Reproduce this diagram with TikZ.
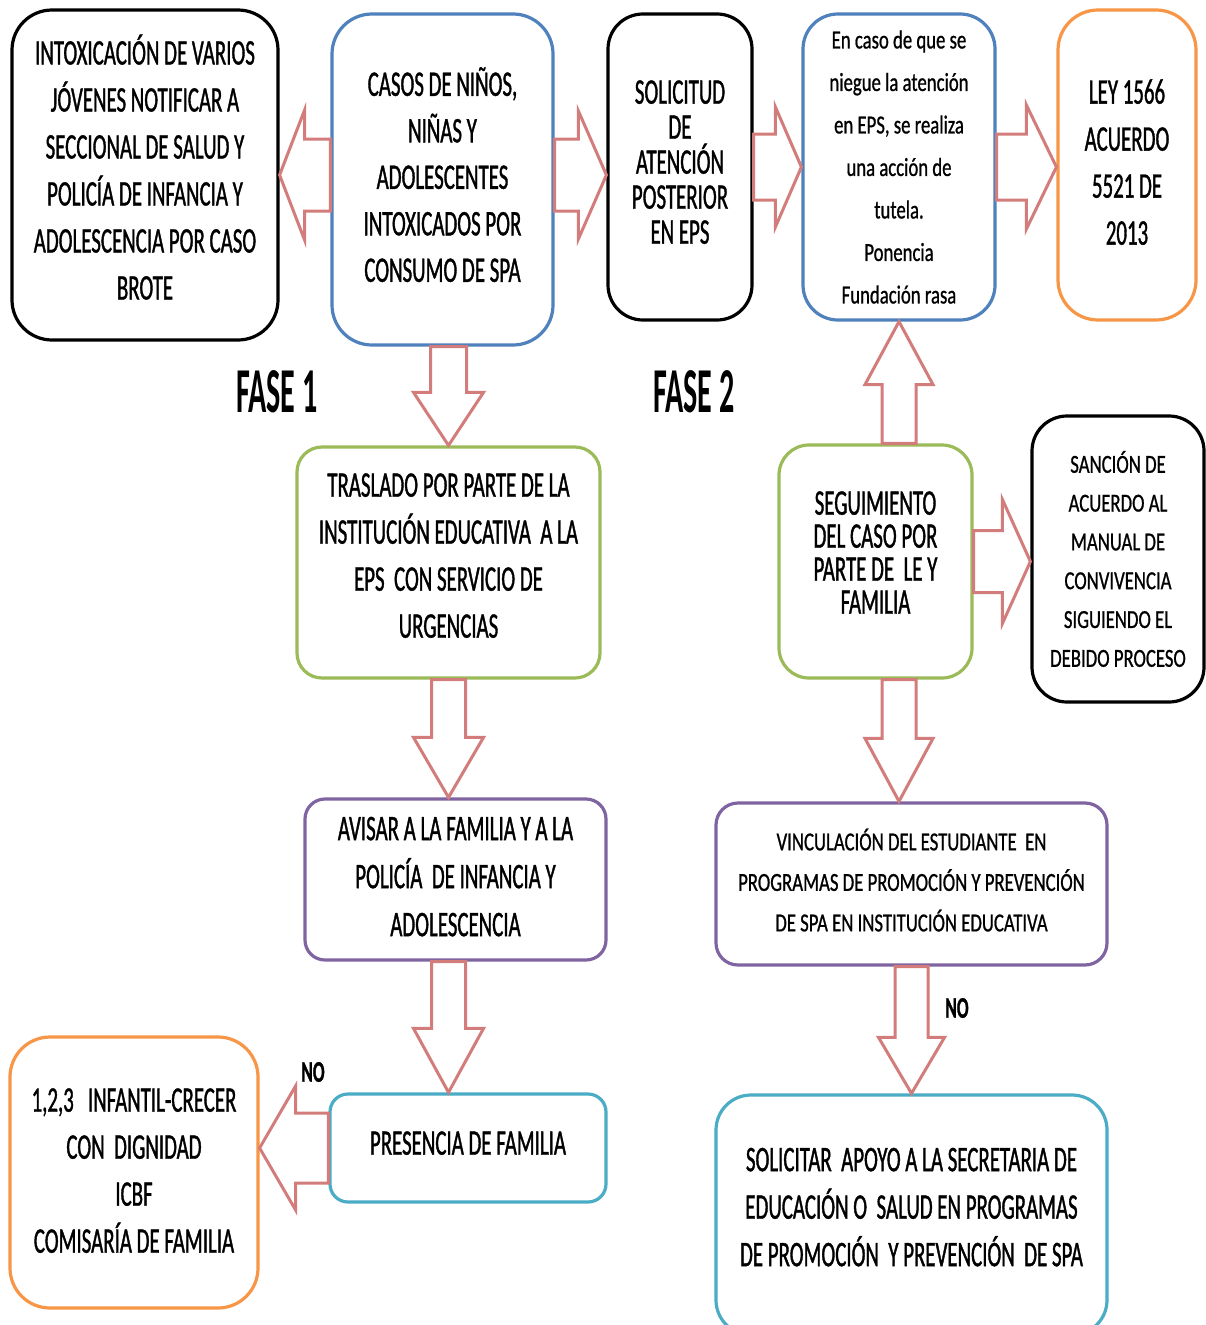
\documentclass[tikz,border=0pt]{standalone}
\usepackage{fontspec}
\setmainfont{Carlito}
\newfontfamily\condA{Carlito}[FakeStretch=0.58,FakeBold=1]
\newfontfamily\condB{Carlito}[FakeStretch=0.72,FakeBold=0.8]
\newfontfamily\condC{Carlito}[FakeStretch=0.47]
\usetikzlibrary{calc}
\definecolor{cblue}{RGB}{79,129,189}
\definecolor{corange}{RGB}{247,150,70}
\definecolor{cgreen}{RGB}{155,187,89}
\definecolor{cpurple}{RGB}{128,100,162}
\definecolor{cteal}{RGB}{75,172,198}
\definecolor{carrow}{RGB}{210,125,123}
\tikzset{
  box/.style={draw, line width=3.2pt, fill=white, align=center, inner sep=0pt, text=black},
  txtA/.style={font=\condA\fontsize{36}{47}\selectfont},
  blockarrow/.style={draw=carrow, line width=3pt, fill=white, line join=miter},
  faselabel/.style={font=\condC\bfseries\fontsize{64}{70}\selectfont, inner sep=0pt},
  nolabel/.style={font=\condA\bfseries\fontsize{30}{34}\selectfont, inner sep=0pt}
}
\newcommand\blockarr[5]{%
  \coordinate (ba-s) at (#1);
  \coordinate (ba-e) at (#2);
  \coordinate (ba-h) at ($(ba-e)!#5!(ba-s)$);
  \draw[blockarrow] ($(ba-s)!#3!90:(ba-e)$) -- ($(ba-h)!#3!-90:(ba-s)$) -- ($(ba-h)!#4!-90:(ba-s)$)
    -- (ba-e) -- ($(ba-h)!#4!90:(ba-s)$) -- ($(ba-h)!#3!90:(ba-s)$) -- ($(ba-s)!#3!-90:(ba-e)$) -- cycle;}
\begin{document}
\begin{tikzpicture}[x=1pt,y=-1pt]
\useasboundingbox (0,0) rectangle (1206,1325);
\fill[white] (0,0) rectangle (1206,1325);

\node[box, draw=black, rounded corners=40pt, minimum width=266pt, minimum height=330pt, txtA, text depth=16pt] (b1) at (145,175)
  {INTOXICACIÓN DE VARIOS\\JÓVENES NOTIFICAR A\\SECCIONAL DE SALUD Y\\POLICÍA DE INFANCIA Y\\ADOLESCENCIA POR CASO\\BROTE};
\node[box, draw=cblue, rounded corners=40pt, minimum width=221pt, minimum height=331pt, font=\condA\fontsize{36}{46.5}\selectfont, text depth=10pt] (b2) at (442.5,179.5)
  {CASOS DE NIÑOS,\\NIÑAS Y\\ADOLESCENTES\\INTOXICADOS POR\\CONSUMO DE SPA};
\node[box, draw=black, rounded corners=35pt, minimum width=144pt, minimum height=306pt, font=\condA\fontsize{36}{35}\selectfont, text depth=10pt] (b3) at (680,167)
  {SOLICITUD\\DE\\ATENCIÓN\\POSTERIOR\\EN EPS};
\node[box, draw=cblue, rounded corners=35pt, minimum width=192pt, minimum height=306pt, font=\condB\fontsize{26}{42.5}\selectfont] (b4) at (899,167)
  {En caso de que se\\niegue la atención\\en EPS, se realiza\\una acción de\\tutela.\\Ponencia\\Fundación rasa};
\node[box, draw=corange, rounded corners=40pt, minimum width=138pt, minimum height=310pt, txtA, text depth=6pt] (b5) at (1127,165)
  {LEY 1566\\ACUERDO\\5521 DE\\2013};
\node[box, draw=cgreen, rounded corners=25pt, minimum width=303pt, minimum height=231pt, txtA, text depth=14pt] (b6) at (448.5,562.5)
  {TRASLADO POR PARTE DE LA\\INSTITUCIÓN EDUCATIVA\ \ A LA\\EPS\ \ CON SERVICIO DE\\URGENCIAS};
\node[box, draw=cgreen, rounded corners=30pt, minimum width=193pt, minimum height=233pt, font=\condA\fontsize{36}{33}\selectfont, text depth=18pt] (b7) at (875.5,561.5)
  {SEGUIMIENTO\\DEL CASO POR\\PARTE DE\ \ LE Y\\FAMILIA};
\node[box, draw=black, rounded corners=35pt, minimum width=172pt, minimum height=286pt, font=\condB\fontsize{26}{38.8}\selectfont] (b8) at (1118,559)
  {SANCIÓN DE\\ACUERDO AL\\MANUAL DE\\CONVIVENCIA\\SIGUIENDO EL\\DEBIDO PROCESO};
\node[box, draw=cpurple, rounded corners=20pt, minimum width=301pt, minimum height=161pt, font=\condA\fontsize{36}{48}\selectfont, text depth=6pt] (b9) at (455.5,879.5)
  {AVISAR A LA FAMILIA Y A LA\\POLICÍA\ \ DE INFANCIA Y\\ADOLESCENCIA};
\node[box, draw=cpurple, rounded corners=22pt, minimum width=391pt, minimum height=162pt, font=\condB\fontsize{26}{40.5}\selectfont, text depth=8pt] (b10) at (911.5,884)
  {VINCULACIÓN DEL ESTUDIANTE\ \ EN\\PROGRAMAS DE PROMOCIÓN Y PREVENCIÓN\\DE SPA EN INSTITUCIÓN EDUCATIVA};
\node[box, draw=corange, rounded corners=40pt, minimum width=248pt, minimum height=271pt, txtA, text depth=4pt] (b11) at (134,1172.5)
  {1,2,3\ \ \ INFANTIL-CRECER\\CON\ \ DIGNIDAD\\ICBF\\COMISARÍA DE FAMILIA};
\node[box, draw=cteal, rounded corners=18pt, minimum width=276pt, minimum height=108pt, txtA, text depth=10pt] (b12) at (468,1148)
  {PRESENCIA DE FAMILIA};
\node[box, draw=cteal, rounded corners=35pt, minimum width=391pt, minimum height=240pt, font=\condA\fontsize{36}{47.5}\selectfont, text depth=16pt] (b13) at (911.5,1215)
  {SOLICITAR\ \ APOYO A LA SECRETARIA DE\\EDUCACIÓN O\ \ SALUD EN PROGRAMAS\\DE PROMOCIÓN\ \ Y PREVENCIÓN\ \ DE SPA};

\node[faselabel] (f1) at (277,392) {FASE 1};
\node[faselabel] (f2) at (694,392) {FASE 2};
\node[nolabel] (no1) at (313,1072) {NO};
\node[nolabel] (no2) at (957,1008) {NO};

\blockarr{b2.west |- b1.east}{b1.east}{36pt}{65pt}{25pt}
\blockarr{b2.east |- b1.east}{b3.west |- b1.east}{36pt}{64pt}{28pt}
\blockarr{b3.east}{b4.west}{33pt}{60pt}{26pt}
\blockarr{b4.east}{b5.west |- b4.east}{33pt}{62pt}{30pt}
\blockarr{b6.north |- b2.south}{b6.north}{18pt}{35pt}{53pt}
\blockarr{b6.south}{b6.south |- b9.north}{17pt}{35pt}{60pt}
\blockarr{b6.south |- b9.south}{b6.south |- b12.north}{17pt}{35pt}{64pt}
\blockarr{b12.west}{b11.east |- b12.west}{35pt}{62pt}{36pt}
\blockarr{b4.south |- b7.north}{b4.south}{17pt}{34pt}{63pt}
\blockarr{b7.east}{b8.west |- b7.east}{31pt}{62pt}{28pt}
\blockarr{b4.south |- b7.south}{b4.south |- b10.north}{17pt}{34pt}{63pt}
\blockarr{b10.south}{b10.south |- b13.north}{16.5pt}{33pt}{56pt}
\end{tikzpicture}
\end{document}
